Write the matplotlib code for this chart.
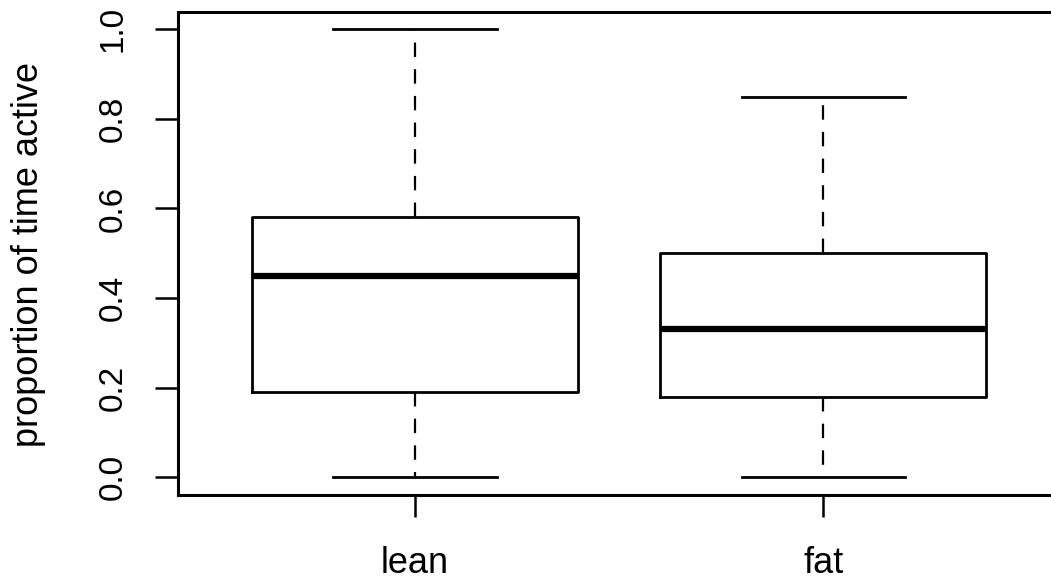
import matplotlib
matplotlib.use("Agg")
import matplotlib.pyplot as plt

# Five-number summaries for each group
groups = ["lean", "fat"]
whisker_low = [0.0, 0.0]
q1 = [0.19, 0.18]
medians = [0.45, 0.33]
q3 = [0.58, 0.50]
whisker_high = [1.0, 0.85]
yticks = [0.0, 0.2, 0.4, 0.6, 0.8, 1.0]

plt.rcParams["font.family"] = ["Liberation Sans", "DejaVu Sans"]

W, H, DPI = 1051, 584, 100
fig = plt.figure(figsize=(W / DPI, H / DPI), dpi=DPI)

# axes frame in pixel coordinates (right edge runs past the canvas)
left_px, right_px, top_px, bottom_px = 178, 1060, 11.5, 495
ax = fig.add_axes([left_px / W, (H - bottom_px) / H,
                   (right_px - left_px) / W, (bottom_px - top_px) / H])

stats = []
for i, name in enumerate(groups):
    stats.append(dict(label=name, whislo=whisker_low[i], q1=q1[i],
                      med=medians[i], q3=q3[i], whishi=whisker_high[i],
                      fliers=[]))

positions = list(range(1, len(groups) + 1))
ax.bxp(stats, positions=positions, widths=0.8, showfliers=False,
       patch_artist=False,
       boxprops=dict(color="black", linewidth=2.0),
       medianprops=dict(color="black", linewidth=4.5, solid_capstyle="butt"),
       whiskerprops=dict(color="black", linewidth=1.6, linestyle=(0, (6.5, 5.5))),
       capprops=dict(color="black", linewidth=2.0),
       capwidths=0.4)

ax.set_xlim(0.42, 2.58)
ax.set_ylim(-0.04, 1.04)

ax.set_yticks(yticks)
ax.set_yticklabels([f"{v:.1f}" for v in yticks], rotation=90, va="center")
ax.set_xticks(positions)
ax.set_xticklabels(groups)

ax.tick_params(axis="both", direction="out", width=1.8, colors="black")
ax.tick_params(axis="x", length=16, pad=21, labelsize=26)
ax.tick_params(axis="y", length=16.5, pad=19, labelsize=24)
for side in ["left", "bottom", "top", "right"]:
    ax.spines[side].set_linewidth(2.2)
    ax.spines[side].set_color("black")

fig.text(38 / W, 1 - 254 / H, "proportion of time active", rotation=90,
         rotation_mode="anchor", ha="center", va="baseline", fontsize=26)

fig.savefig("out.png", dpi=DPI, facecolor="white")
